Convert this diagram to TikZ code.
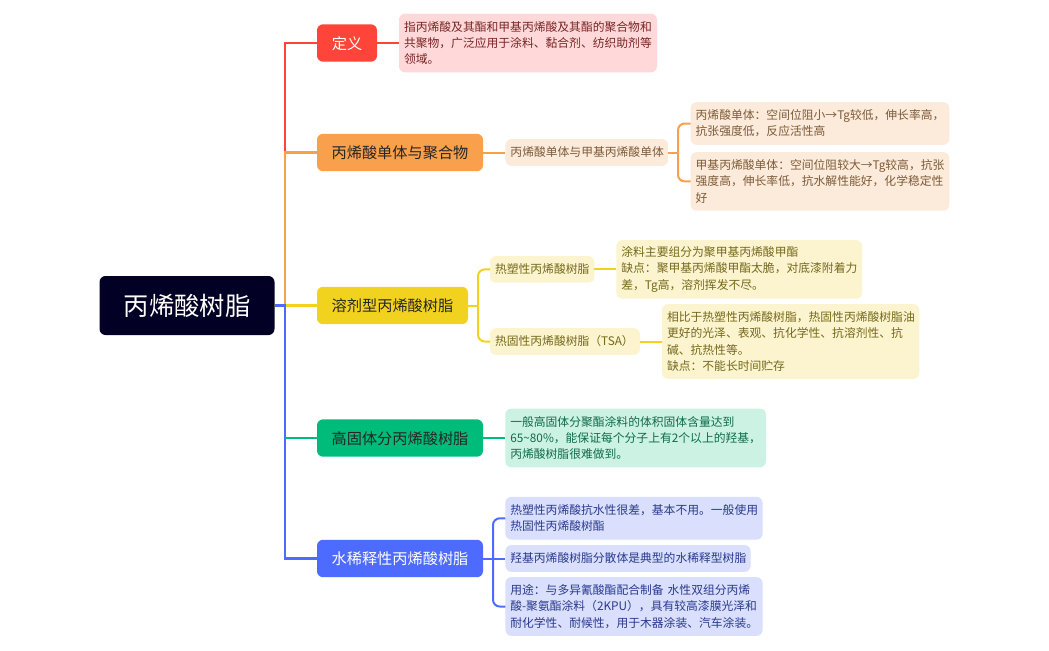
\documentclass[tikz,border=0pt]{standalone}
\usepackage{fontspec}
\setmainfont{Noto Sans CJK SC}
\definecolor{rootColor}{HTML}{020024}
\definecolor{redColor}{HTML}{FF443A}
\definecolor{redLeafColor}{HTML}{FFD9D9}
\definecolor{redTextColor}{HTML}{7A2424}
\definecolor{orangeColor}{HTML}{F8A04B}
\definecolor{orangeLeafColor}{HTML}{FCEBDB}
\definecolor{orangeTextColor}{HTML}{7C5A38}
\definecolor{yellowColor}{HTML}{F1D21F}
\definecolor{yellowLeafColor}{HTML}{FBF4CF}
\definecolor{yellowTextColor}{HTML}{76681C}
\definecolor{greenColor}{HTML}{00BC7B}
\definecolor{greenLeafColor}{HTML}{CCF2E4}
\definecolor{greenTextColor}{HTML}{0F6B4A}
\definecolor{blueColor}{HTML}{4D6BFE}
\definecolor{blueLeafColor}{HTML}{D9DFFD}
\definecolor{blueTextColor}{HTML}{2A3A8C}
\tikzset{
  box/.style={rounded corners=4.5pt, inner sep=0pt, outer sep=0pt, align=center},
  root/.style={box, fill=rootColor, text=white, minimum width=131.25pt, minimum height=44.25pt, font=\fontsize{19}{22}\selectfont},
  topic/.style={box, minimum width=124.5pt, minimum height=28pt, text height=11pt, text depth=1.5pt, font=\fontsize{11.4}{14}\selectfont},
  leaf/.style={box, inner xsep=3.75pt, align=left, font=\fontsize{8.85}{12.1}\selectfont},
  redLeaf/.style={leaf, fill=redLeafColor, text=redTextColor},
  orangeLeaf/.style={leaf, fill=orangeLeafColor, text=orangeTextColor},
  yellowLeaf/.style={leaf, fill=yellowLeafColor, text=yellowTextColor},
  greenLeaf/.style={leaf, fill=greenLeafColor, text=greenTextColor},
  blueLeaf/.style={leaf, fill=blueLeafColor, text=blueTextColor},
  trunkLink/.style={line width=1.9pt},
  link/.style={line width=1.5pt},
  fork/.style={line width=1.5pt, rounded corners=5pt}
}
\begin{document}
\begin{tikzpicture}[x=0.75pt, y=-0.75pt]
  \useasboundingbox (0,0) rectangle (1049,650);

  \node[root] (root) at (187,305.5) {丙烯酸树脂};
  \coordinate (trunk) at (285,305.5);

  \node[topic, fill=redColor, text=white, minimum width=45pt] (def) at (347,43) {定义};
  \node[topic, fill=orangeColor, text=black!85] (monomer) at (400,152.5) {丙烯酸单体与聚合物};
  \node[topic, fill=yellowColor, text=black!85, minimum width=113.25pt] (solvent) at (392.5,305.5) {溶剂型丙烯酸树脂};
  \node[topic, fill=greenColor, text=black!85] (solid) at (400,438) {高固体分丙烯酸树脂};
  \node[topic, fill=blueColor, text=white] (water) at (400,558.5) {水稀释性丙烯酸树脂};

  \node[redLeaf, text width=186pt, minimum height=44pt] (defText) at (528,43) {指丙烯酸及其酯和甲基丙烯酸及其酯的聚合物和\\共聚物，广泛应用于涂料、黏合剂、纺织助剂等\\领域。};

  \node[orangeLeaf, text width=114.5pt, minimum height=20pt] (pair) at (586.8,152.5) {丙烯酸单体与甲基丙烯酸单体};
  \node[orangeLeaf, text width=186.5pt, minimum height=32pt] (pairA) at (820,123.5) {丙烯酸单体：空间位阻小→Tg较低，伸长率高，\\抗张强度低，反应活性高};
  \node[orangeLeaf, text width=186.5pt, minimum height=44pt] (pairB) at (820,181.4) {甲基丙烯酸单体：空间位阻较大→Tg较高，抗张\\强度高，伸长率低，抗水解性能好，化学稳定性\\好};

  \node[yellowLeaf, text width=70.75pt, minimum height=20pt] (plastic) at (542.2,269.4) {热塑性丙烯酸树脂};
  \node[yellowLeaf, text width=176.75pt, minimum height=44pt] (plasticText) at (739.2,269.4) {涂料主要组分为聚甲基丙烯酸甲酯\\缺点：聚甲基丙烯酸甲酯太脆，对底漆附着力\\差，Tg高，溶剂挥发不尽。};
  \node[yellowLeaf, text width=105pt, minimum height=20pt] (thermoset) at (565,341.5) {热固性丙烯酸树脂（TSA）};
  \node[yellowLeaf, text width=185.5pt, minimum height=56pt] (thermosetText) at (790.7,341.5) {相比于热塑性丙烯酸树脂，热固性丙烯酸树脂油\\更好的光泽、表观、抗化学性、抗溶剂性、抗\\碱、抗热性等。\\缺点：不能长时间贮存};

  \node[greenLeaf, text width=188pt, minimum height=44pt] (solidText) at (635.6,438) {一般高固体分聚酯涂料的体积固体含量达到\\65\textasciitilde80\%，能保证每个分子上有2个以上的羟基，\\丙烯酸树脂很难做到。};

  \node[blueLeaf, text width=185.5pt, minimum height=32pt] (waterA) at (634,518.3) {热塑性丙烯酸抗水性很差，基本不用。一般使用\\热固性丙烯酸树酯};
  \node[blueLeaf, text width=176.5pt, minimum height=20pt] (waterB) at (628,558.5) {羟基丙烯酸树脂分散体是典型的水稀释型树脂};
  \node[blueLeaf, text width=185.5pt, minimum height=44pt] (waterC) at (634,606.5) {用途：与多异氰酸酯配合制备 水性双组分丙烯\\酸\mbox{-}聚氨酯涂料（2KPU），具有较高漆膜光泽和\\耐化学性、耐候性，用于木器涂装、汽车涂装。};

  \draw[trunkLink, redColor] (trunk) |- (def.west);
  \draw[link, redColor] (def.east) -- (defText.west);

  \draw[trunkLink, orangeColor] (trunk) |- (monomer.west);
  \draw[link, orangeColor] (monomer.east) -- (pair.west);
  \coordinate (pairFork) at (678,152.5);
  \draw[link, orangeColor] (pair.east) -- (pairFork);
  \draw[fork, orangeColor] (pairFork) |- (pairA.west);
  \draw[fork, orangeColor] (pairFork) |- (pairB.west);

  \draw[trunkLink, yellowColor] (trunk) -- (solvent.west);
  \coordinate (solventFork) at (478,305.5);
  \draw[link, yellowColor] (solvent.east) -- (solventFork);
  \draw[fork, yellowColor] (solventFork) |- (plastic.west);
  \draw[fork, yellowColor] (solventFork) |- (thermoset.west);
  \draw[link, yellowColor] (plastic.east) -- (plasticText.west);
  \draw[link, yellowColor] (thermoset.east) -- (thermosetText.west);

  \draw[trunkLink, blueColor] (root.east) -- (trunk) |- (water.west);
  \coordinate (solidJoin) at (285,438);
  \draw[trunkLink, greenColor] (solidJoin) -- (solid.west);
  \draw[link, greenColor] (solid.east) -- (solidText.west);

  \coordinate (waterFork) at (493,558.5);
  \draw[link, blueColor] (water.east) -- (waterB.west);
  \draw[fork, blueColor] (waterFork) |- (waterA.west);
  \draw[fork, blueColor] (waterFork) |- (waterC.west);
\end{tikzpicture}
\end{document}
